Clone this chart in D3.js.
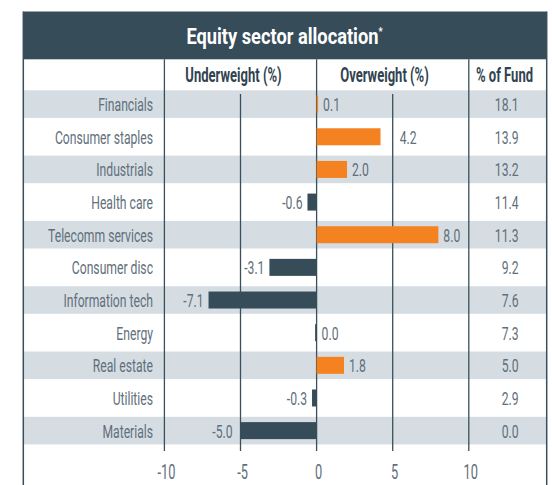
<!DOCTYPE html>
<html>
<head>
<meta charset="utf-8">
<script src="https://cdn.jsdelivr.net/npm/d3@7"></script>
<style>
  html, body { margin: 0; padding: 0; background: #ffffff; }
  svg { display: block; }
</style>
</head>
<body>
<svg id="chart" width="552" height="485"></svg>
<script>
// ---------------- data ----------------
const categories = ["Financials", "Consumer staples", "Industrials", "Health care",
  "Telecomm services", "Consumer disc", "Information tech", "Energy",
  "Real estate", "Utilities", "Materials"];
const activeWeights = [0.1, 4.2, 2.0, -0.6, 8.0, -3.1, -7.1, 0.0, 1.8, -0.3, -5.0];
const fundPct = [18.1, 13.9, 13.2, 11.4, 11.3, 9.2, 7.6, 7.3, 5.0, 2.9, 0.0];
const xTicks = [-10, -5, 0, 5, 10];
const titleText = "Equity sector allocation";
const headerUnder = "Underweight (%)";
const headerOver = "Overweight (%)";
const headerFund = "% of Fund";

// ---------------- style ----------------
const C = {
  dark: "#364c58", orange: "#f58220", band: "#d5dde3",
  text: "#5f6f7b", head: "#2f4350", grid: "#3a4f5b"
};
const FONT = "Roboto, 'Liberation Sans', sans-serif";
const SX = 0.64;            // horizontal condensing of text

const svg = d3.select("#chart");
const L = 23.3, R = 546.7;
const titleTop = 11.5, titleBottom = 59.3;
const gridBottom = 451;

const x = d3.scaleLinear().domain([-10, 10]).range([164.4, 468.8]);
const y = d3.scaleBand().domain(categories)
  .range([87.8, 87.8 + 11 * 32.65]).paddingInner(0.155).paddingOuter(0.0775);

const fmt = v => d3.format(".1f")(v).replace("\u2212", "-");

function txt(g, px, py, s, o) {
  return g.append("text")
    .attr("transform", `translate(${px},${py}) scale(${o.sx || SX},1)`)
    .attr("text-anchor", o.anchor || "start")
    .style("font-family", FONT)
    .style("font-size", (o.size || 19) + "px")
    .style("font-weight", o.weight || 400)
    .style("fill", o.fill || C.text)
    .text(s);
}

// row bands
svg.append("g").selectAll("rect")
  .data(categories.filter((d, i) => i % 2 === 0))
  .join("rect")
  .attr("x", L).attr("width", R - L)
  .attr("y", d => y(d)).attr("height", y.bandwidth())
  .attr("fill", C.band);

// title bar
svg.append("rect").attr("x", L).attr("y", titleTop)
  .attr("width", R - L).attr("height", titleBottom - titleTop).attr("fill", C.dark);
const tt = txt(svg, 284.5, 44, titleText, { anchor: "middle", size: 22, weight: 700, fill: "#ffffff", sx: 0.83 });
tt.append("tspan").attr("dy", -9).style("font-size", "11px").text("*");

// headers
const hOpt = { anchor: "middle", size: 21, weight: 700, fill: C.head, sx: 0.62 };
txt(svg, 233.5, 82, headerUnder, hOpt);
txt(svg, 384.5, 82, headerOver, hOpt);
txt(svg, 504.5, 82, headerFund, hOpt);

// grid lines / column separators
svg.append("g").selectAll("line").data(xTicks).join("line")
  .attr("x1", d => x(d)).attr("x2", d => x(d))
  .attr("y1", d => (d === 0 || Math.abs(d) === 10) ? titleBottom : 94)
  .attr("y2", gridBottom)
  .attr("stroke", C.grid).attr("stroke-width", 1.3);

// outer borders
svg.append("line").attr("x1", L).attr("x2", L).attr("y1", titleTop).attr("y2", 485)
  .attr("stroke", C.grid).attr("stroke-width", 1.5);
svg.append("line").attr("x1", R).attr("x2", R).attr("y1", titleTop).attr("y2", 485)
  .attr("stroke", C.grid).attr("stroke-width", 1.5);

// bars
const barH = 17;
const rows = categories.map((c, i) => ({ c, v: activeWeights[i], f: fundPct[i] }));
svg.append("g").selectAll("rect").data(rows).join("rect")
  .attr("x", d => d.v > 0 ? x(0) : x(0) - Math.max(x(0) - x(d.v), 1.5))
  .attr("width", d => Math.max(Math.abs(x(d.v) - x(0)), 1.5))
  .attr("y", d => y(d.c) + y.bandwidth() / 2 - barH / 2)
  .attr("height", barH)
  .attr("fill", d => d.v > 0 ? C.orange : C.dark);

const base = d => y(d.c) + y.bandwidth() / 2 + 7;

// category labels and fund % column
const lab = svg.append("g");
rows.forEach(d => {
  txt(lab, 153, base(d), d.c, { anchor: "end" });
  txt(lab, 518.5, base(d), fmt(d.f), { anchor: "end" });
});

// value labels, nudged off grid lines
const gridX = xTicks.filter(t => t !== 0).map(t => x(t));
rows.forEach(d => {
  const cy = base(d);
  const t = txt(lab, 0, cy, fmt(d.v), { anchor: "start" });
  const w = t.node().getComputedTextLength() * SX;
  let left;
  if (d.v >= 0) {
    left = x(d.v) + 5;
    gridX.forEach(g => { if (g > left - 6 && g < left + w + 3) left = g + 7; });
  } else {
    left = x(d.v) - 5 - w;
    gridX.forEach(g => { if (g > left - 3 && g < left + w + 6) left = g - 8 - w; });
  }
  t.attr("transform", `translate(${left},${cy}) scale(${SX},1)`);
});

// bottom axis labels
xTicks.forEach(t => {
  txt(svg, x(t) + 2, 479, fmt(t).replace(".0", ""), { anchor: "middle", size: 20 });
});
</script>
</body>
</html>
